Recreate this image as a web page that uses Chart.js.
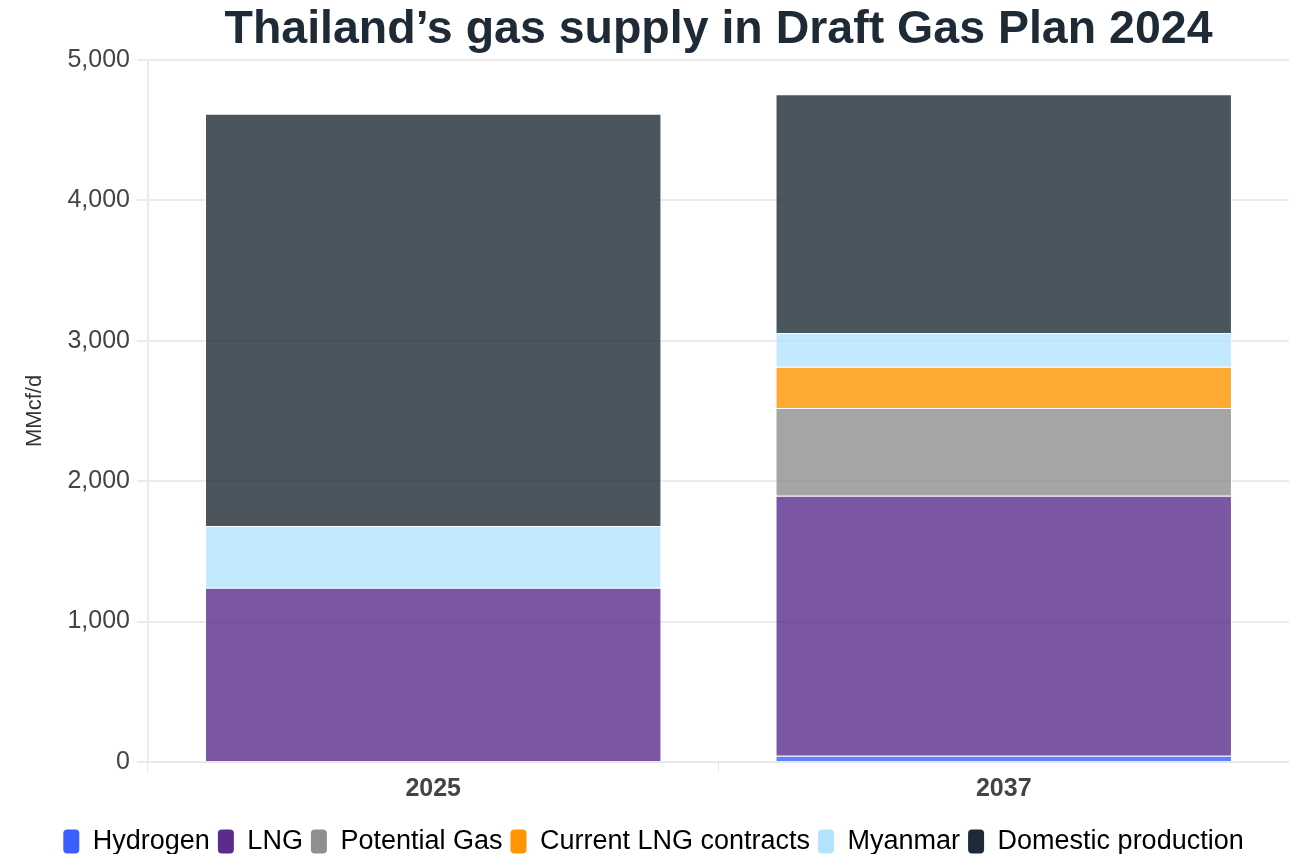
<!DOCTYPE html>
<html>
<head>
<meta charset="utf-8">
<script src="https://cdn.jsdelivr.net/npm/chart.js@4.4.1/dist/chart.umd.min.js"></script>
<style>
  html, body { margin: 0; padding: 0; background: #fff; }
  #wrap { width: 1289px; height: 854px; }
</style>
</head>
<body>
<div id="wrap"><canvas id="chart"></canvas></div>
<script>
const years = ['2025', '2037'];
const seriesNames = ['Hydrogen', 'LNG', 'Potential Gas', 'Current LNG contracts', 'Myanmar', 'Domestic production'];
const hydrogen = [0, 45];
const lng = [1240, 1850];
const potentialGas = [0, 625];
const currentLngContracts = [0, 295];
const myanmar = [440, 240];
const domesticProduction = [2935, 1700];
const yTicks = [0, 1000, 2000, 3000, 4000, 5000];

const colors = ['#3a5fff', '#5a2d8c', '#8f8f8f', '#ff9500', '#b3e3ff', '#1e2a35'];
const values = [hydrogen, lng, potentialGas, currentLngContracts, myanmar, domesticProduction];

const fade = (hex, a) => {
  const n = parseInt(hex.slice(1), 16);
  return `rgba(${n >> 16}, ${(n >> 8) & 255}, ${n & 255}, ${a})`;
};

const datasets = seriesNames.map((name, i) => ({
  label: name,
  data: values[i],
  backgroundColor: fade(colors[i], 0.8),
  borderColor: 'rgba(255,255,255,0.9)',
  borderWidth: 1,
  categoryPercentage: 1,
  barPercentage: 0.8
}));

Chart.defaults.font.family = '"Liberation Sans", Arial, sans-serif';

new Chart(document.getElementById('chart'), {
  type: 'bar',
  data: { labels: years, datasets },
  options: {
    responsive: true,
    maintainAspectRatio: false,
    animation: false,
    layout: { padding: { top: 0, right: 0, bottom: -11, left: 18 } },
    plugins: {
      title: {
        display: true,
        fullSize: false,
        text: 'Thailand\u2019s gas supply in Draft Gas Plan 2024',
        color: '#1e2a35',
        font: { size: 46.5, weight: 'bold' },
        padding: { top: 2, bottom: 2 }
      },
      legend: {
        position: 'bottom',
        labels: {
          color: '#333',
          font: { size: 27 },
          boxWidth: 16,
          boxHeight: 24,
          useBorderRadius: true,
          borderRadius: 4,
          padding: 8,
          generateLabels: chart => chart.data.datasets.map((ds, i) => ({
            text: ds.label,
            fillStyle: colors[i],
            strokeStyle: colors[i],
            lineWidth: 0,
            borderRadius: 4,
            datasetIndex: i
          }))
        }
      },
      tooltip: { enabled: false }
    },
    scales: {
      x: {
        stacked: true,
        afterFit: axis => { axis.height += 14; },
        grid: { display: true, drawOnChartArea: false, tickLength: 10, color: '#e6e6e6' },
        border: { color: '#e6e6e6' },
        ticks: { color: '#444', font: { size: 25, weight: 'bold' }, padding: 2 }
      },
      y: {
        stacked: true,
        min: 0,
        max: 5000,
        afterBuildTicks: axis => { axis.ticks = yTicks.map(v => ({ value: v })); },
        grid: { color: '#ebebeb', tickLength: 11, lineWidth: 2 },
        border: { color: '#ebebeb', width: 2 },
        ticks: {
          color: '#444',
          font: { size: 25 },
          padding: 7,
          callback: v => v.toLocaleString('en-US')
        },
        title: {
          display: true,
          text: 'MMcf/d',
          color: '#333',
          font: { size: 22 },
          padding: { bottom: 12 }
        }
      }
    }
  }
});
</script>
</body>
</html>
